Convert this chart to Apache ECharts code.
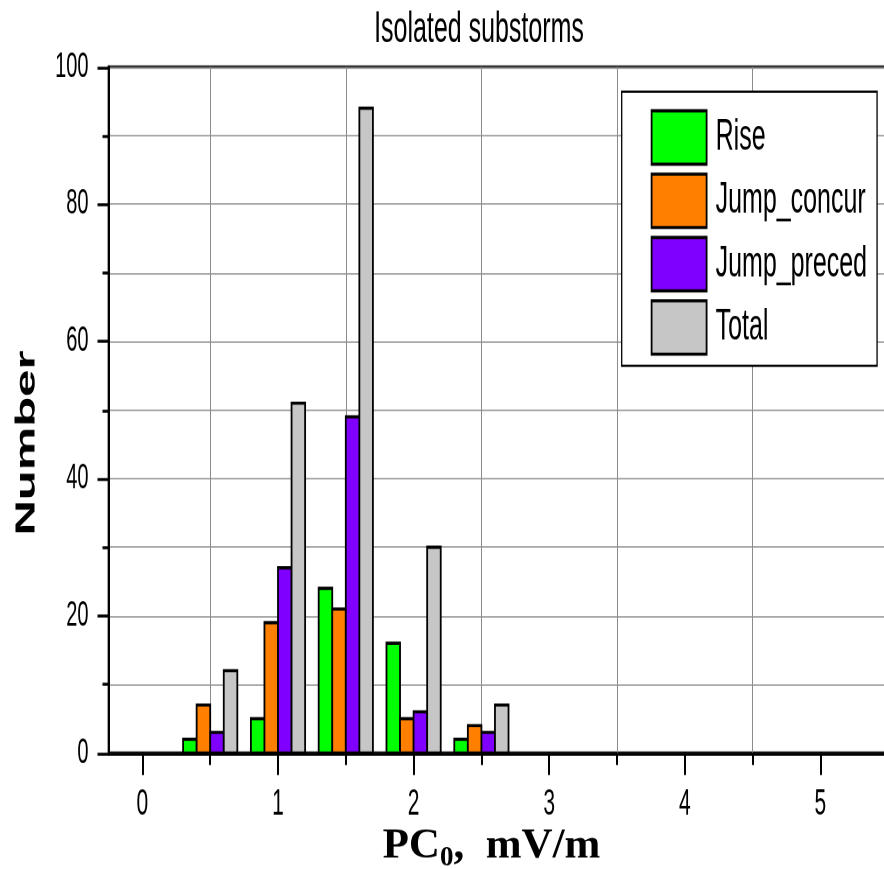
<!DOCTYPE html>
<html><head><meta charset="utf-8">
<script src="https://cdn.jsdelivr.net/npm/echarts@6/dist/echarts.min.js"></script>
<style>
html,body{margin:0;padding:0;background:#fff;overflow:hidden;width:884px;height:869px;}
#wrap{width:884px;height:869px;overflow:hidden;}
#main{width:884px;height:496.5714px;transform:scaleY(1.75);transform-origin:0 0;}
</style></head><body><div id="wrap"><div id="main"></div></div>
<script>
// ---- data ----
const binCenters = [0.5, 1.0, 1.5, 2.0, 2.5];
const seriesNames = ['Rise', 'Jump_concur', 'Jump_preced', 'Total'];
const rise = [2, 5, 24, 16, 2];
const jumpConcur = [7, 19, 21, 5, 4];
const jumpPreced = [3, 27, 49, 6, 3];
const total = [12, 51, 94, 30, 7];
const xTickValues = [0, 1, 2, 3, 4, 5];
const xMinorTickValues = [0.5, 1.5, 2.5, 3.5, 4.5];
const titleText = 'Isolated substorms';
const yTitle = 'Number';

// ---- style ----
const SY = 1.75;            // vertical stretch of the whole picture
const colors = ['#00ff00', '#ff8000', '#8000ff', '#c6c6c6'];
const BAR_W = 0.1;
const FONT = 'Liberation Sans';

const chart = echarts.init(document.getElementById('main'), null, {renderer: 'canvas', devicePixelRatio: 2});

function makeSeries(name, values, idx, color) {
  return {
    type: 'custom',
    name: name,
    xAxisIndex: 0,
    yAxisIndex: 0,
    itemStyle: {color: color, borderColor: '#000', borderWidth: 1.8},
    encode: {x: 0, y: 1},
    data: binCenters.map((c, i) => [c, values[i]]),
    renderItem: function (params, api) {
      const center = api.value(0);
      const v = api.value(1);
      const left = center + (idx - 2) * BAR_W;
      const tl = api.coord([left, v]);
      const br = api.coord([left + BAR_W, 0]);
      return {
        type: 'rect',
        shape: {x: tl[0], y: tl[1], width: br[0] - tl[0], height: br[1] - tl[1]},
        style: {fill: color, stroke: '#000', lineWidth: 1.8}
      };
    }
  };
}

const allValues = [rise, jumpConcur, jumpPreced, total];

const option = {
  backgroundColor: '#fff',
  animation: false,
  title: {
    text: titleText,
    left: 479,
    top: 4.6,
    padding: 0,
    textAlign: 'center',
    textStyle: {fontFamily: FONT, fontSize: 25, fontWeight: 'normal', color: '#000'}
  },
  grid: {
    left: 108.5, top: 67 / SY, width: 779.7, height: 686 / SY,
    show: true, borderColor: '#000', borderWidth: 1.7, backgroundColor: 'transparent',
    containLabel: false, outerBoundsMode: 'none'
  },
  legend: {
    orient: 'vertical', left: 621.7, top: 91.7 / SY,
    padding: [10, 10, 5.7, 29],
    itemWidth: 55, itemHeight: 30.5, itemGap: 3.9,
    borderColor: '#000', borderWidth: 1.3, backgroundColor: '#fff',
    icon: 'rect', selectedMode: false,
    itemStyle: {borderColor: '#000', borderWidth: 1.8},
    textStyle: {fontFamily: FONT, fontSize: 25, color: '#000', padding: [0, 0, 0, 4]},
    data: seriesNames
  },
  xAxis: [
    {
      type: 'value', min: -0.25, max: 5.5, position: 'bottom',
      axisLine: {show: true, onZero: false, lineStyle: {color: '#000', width: 1.7}},
      axisTick: {show: true, inside: false, length: 22 / SY, customValues: xTickValues, lineStyle: {color: '#000', width: 2}},
      axisLabel: {show: true, customValues: xTickValues, margin: 19, fontFamily: FONT, fontSize: 21, color: '#000'},
      splitLine: {show: false}
    },
    {
      type: 'value', min: -0.25, max: 5.5, position: 'bottom',
      minInterval: 0.5, maxInterval: 0.5, splitNumber: 11,
      axisLine: {show: false},
      axisTick: {show: true, inside: false, length: 12 / SY, customValues: xMinorTickValues, lineStyle: {color: '#000', width: 2}},
      axisLabel: {show: false},
      splitLine: {show: true, lineStyle: {color: '#8c8c8c', width: 1}}
    }
  ],
  yAxis: {
    type: 'value', min: 0, max: 100, interval: 20,
    axisLine: {show: true, onZero: false, lineStyle: {color: '#000', width: 2}},
    axisTick: {show: true, inside: false, length: 11, lineStyle: {color: '#000', width: 1.7}},
    minorTick: {show: true, splitNumber: 2, length: 6, lineStyle: {color: '#000', width: 1.7}},
    axisLabel: {margin: 20, fontFamily: FONT, fontSize: 20, color: '#000'},
    splitLine: {show: true, lineStyle: {color: '#8c8c8c', width: 0.8}},
    minorSplitLine: {show: true, lineStyle: {color: '#8c8c8c', width: 0.8}}
  },
  graphic: [
    {
      type: 'text', x: 27, y: 443 / SY, rotation: Math.PI / 2,
      style: {text: yTitle, font: 'bold 28px "Liberation Sans"', fill: '#000', align: 'center', verticalAlign: 'middle'}
    },
    {
      type: 'text', x: 491.5, y: 846 / SY, scaleY: 1 / SY,
      style: {
        text: '{a|PC}{b|0}{a|,  mV/m}',
        align: 'center', verticalAlign: 'middle',
        rich: {
          a: {font: 'bold 43px "Liberation Serif"', fill: '#000'},
          b: {font: 'bold 27px "Liberation Serif"', fill: '#000', padding: [24, 0, 0, 0]}
        }
      }
    }
  ],
  series: seriesNames.map((n, i) => makeSeries(n, allValues[i], i, colors[i]))
};
chart.setOption(option);
</script></body></html>
